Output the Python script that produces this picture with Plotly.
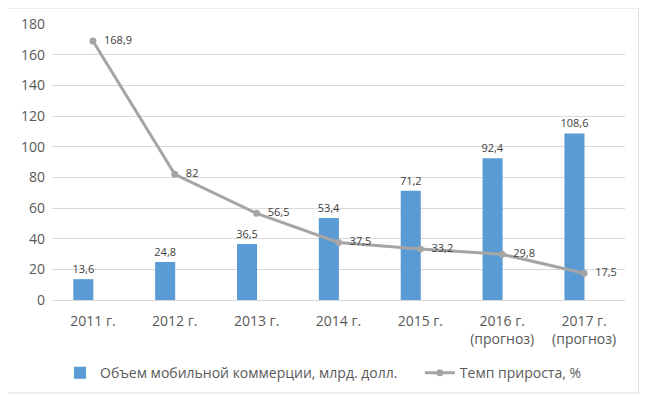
import plotly.graph_objects as go

categories = ["2011 г.", "2012 г.", "2013 г.", "2014 г.", "2015 г.", "2016 г.<br>(прогноз)", "2017 г.<br>(прогноз)"]
volume = [13.6, 24.8, 36.5, 53.4, 71.2, 92.4, 108.6]
growth = [168.9, 82, 56.5, 37.5, 33.2, 29.8, 17.5]
y_ticks = [0, 20, 40, 60, 80, 100, 120, 140, 160, 180]

def fmt(v):
    return (f"{v:g}").replace(".", ",")

FONT = "Open Sans, Liberation Sans, sans-serif"

fig = go.Figure()
fig.add_trace(go.Bar(
    x=categories, y=volume, name="Объем мобильной коммерции, млрд. долл.",
    marker=dict(color="#5b9bd5", line=dict(width=0)),
    width=0.245, offset=-0.24,
    text=[fmt(v) for v in volume], textposition="outside", constraintext="none",
    textfont=dict(size=11, color="#404040", family=FONT),
    cliponaxis=False, legend="legend",
))
fig.add_trace(go.Scatter(
    x=categories, y=growth, name="Темп прироста, %",
    mode="lines+markers+text",
    line=dict(color="#a5a5a5", width=3),
    marker=dict(color="#a5a5a5", size=7),
    text=["  " + fmt(v) for v in growth], textposition="middle right",
    textfont=dict(size=11, color="#404040", family=FONT),
    cliponaxis=False, legend="legend2",
))

leg_common = dict(orientation="h", y=-0.265, xanchor="left", yanchor="middle",
                  font=dict(size=14, color="#595959", family=FONT), bgcolor="rgba(0,0,0,0)")

fig.update_layout(
    width=639, height=390,
    margin=dict(l=44, r=22, t=16, b=98, autoexpand=False),
    paper_bgcolor="white", plot_bgcolor="white",
    font=dict(family=FONT, color="#595959", size=13),
    showlegend=True,
    legend=dict(x=0.014, **leg_common),
    legend2=dict(x=0.642, **leg_common),
    shapes=[dict(type="rect", xref="paper", yref="paper", x0=-0.078, x1=1.024, y0=-0.337, y1=1.058,
                 line=dict(color="#d9d9d9", width=1), fillcolor="rgba(0,0,0,0)")],
)
fig.update_xaxes(showgrid=False, showline=True, linecolor="#d9d9d9", ticks="", tickfont=dict(size=14),
                 automargin=False, ticklabelstandoff=8)
fig.update_yaxes(range=[0, 180], tickvals=y_ticks, showgrid=True, gridcolor="#d9d9d9",
                 zeroline=False, showline=False, ticks="", tickfont=dict(size=14), ticklabelstandoff=6,
                 automargin=False)

fig.write_html("out.html")
